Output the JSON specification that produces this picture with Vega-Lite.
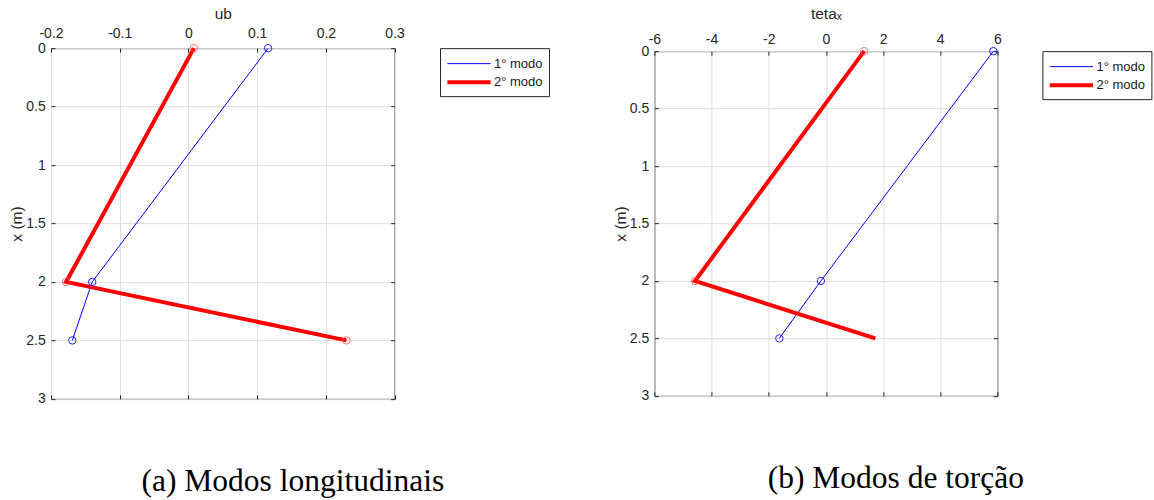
{
  "$schema": "https://vega.github.io/schema/vega-lite/v6.json",
  "padding": {"left": 9, "top": 5, "right": 0, "bottom": 0},
  "background": "white",
  "datasets": {
    "long": [
      {"modo": "1° modo", "val": 0.116, "pos": 0, "m": true},
      {"modo": "1° modo", "val": -0.14, "pos": 2, "m": true},
      {"modo": "1° modo", "val": -0.169, "pos": 2.5, "m": true},
      {"modo": "2° modo", "val": 0.008, "pos": 0, "m": true},
      {"modo": "2° modo", "val": -0.178, "pos": 2, "m": true},
      {"modo": "2° modo", "val": 0.23, "pos": 2.5, "m": true}
    ],
    "tors": [
      {"modo": "1° modo", "val": 5.86, "pos": 0, "m": true},
      {"modo": "1° modo", "val": -0.175, "pos": 2, "m": true},
      {"modo": "1° modo", "val": -1.63, "pos": 2.5, "m": true},
      {"modo": "2° modo", "val": 1.34, "pos": 0, "m": true},
      {"modo": "2° modo", "val": -4.58, "pos": 2, "m": true},
      {"modo": "2° modo", "val": 1.73, "pos": 2.5, "m": false}
    ]
  },
  "config": {
    "font": "Liberation Sans",
    "view": {"stroke": "#262626", "strokeWidth": 1},
    "axis": {
      "labelFont": "Liberation Sans",
      "labelFontSize": 14,
      "labelColor": "#262626",
      "labelFlush": false,
      "labelExpr": "datum.value + ''",
      "titleFont": "Liberation Sans",
      "titleFontSize": 15.5,
      "titleFontWeight": "normal",
      "titleColor": "#262626",
      "domain": false,
      "tickColor": "#262626",
      "tickSize": -4,
      "gridColor": "#dedede",
      "gridWidth": 1
    },
    "legend": {
      "labelFont": "Liberation Sans",
      "labelFontSize": 13,
      "labelColor": "#1a1a1a",
      "strokeColor": "#262626",
      "fillColor": "white",
      "padding": 6,
      "symbolType": "M-2.4,0H2.4",
      "symbolSize": 324,
      "symbolOffset": 12,
      "labelOffset": 14,
      "rowPadding": 0,
      "orient": "right",
      "offset": 44
    },
    "title": {
      "font": "Liberation Serif",
      "fontSize": 31.5,
      "fontWeight": "normal",
      "color": "#000000",
      "orient": "bottom",
      "frame": "group",
      "anchor": "middle",
      "offset": 60,
      "dx": 70
    }
  },
  "hconcat": [
    {
      "width": 343.6,
      "height": 350.7,
      "data": {"name": "long"},
      "title": {"text": "(a) Modos longitudinais"},
      "layer": [
        {
          "mark": {"type": "line"},
          "encoding": {
            "x": {"field": "val", "type": "quantitative", "scale": {"domain": [-0.2, 0.3], "nice": false, "zero": false},
                  "axis": {"orient": "top", "title": "ub", "values": [-0.2, -0.1, 0, 0.1, 0.2, 0.3], "labelPadding": 11.5, "titlePadding": 5.5}},
            "y": {"field": "pos", "type": "quantitative", "scale": {"domain": [0, 3], "reverse": true, "nice": false},
                  "axis": {"orient": "left", "title": "x (m)", "values": [0, 0.5, 1, 1.5, 2, 2.5, 3], "labelPadding": 9.7, "titlePadding": 1}},
            "order": {"field": "pos", "type": "quantitative"},
            "color": {"field": "modo", "type": "nominal", "scale": {"domain": ["1° modo", "2° modo"], "range": ["#0000ff", "#ff0000"]}, "legend": {"title": null}},
            "strokeWidth": {"field": "modo", "type": "nominal", "scale": {"domain": ["1° modo", "2° modo"], "range": [1, 4]}, "legend": {"title": null}}
          }
        },
        {
          "transform": [{"filter": "datum.m"}],
          "mark": {"type": "point", "filled": false, "size": 55, "strokeWidth": 1, "opacity": 0.85},
          "encoding": {
            "x": {"field": "val", "type": "quantitative", "scale": {"domain": [-0.2, 0.3], "nice": false, "zero": false},
                  "axis": {"orient": "bottom", "title": null, "labels": false, "grid": false, "values": [-0.2, -0.1, 0, 0.1, 0.2, 0.3]}},
            "y": {"field": "pos", "type": "quantitative", "scale": {"domain": [0, 3], "reverse": true, "nice": false},
                  "axis": {"orient": "right", "title": null, "labels": false, "grid": false, "values": [0, 0.5, 1, 1.5, 2, 2.5, 3]}},
            "stroke": {"field": "modo", "type": "nominal", "scale": {"domain": ["1° modo", "2° modo"], "range": ["#0000ff", "#ff5a5a"]}, "legend": null}
          }
        }
      ],
      "resolve": {"axis": {"x": "independent", "y": "independent"}}
    },
    {
      "width": 343,
      "height": 344.7,
      "data": {"name": "tors"},
      "title": {"text": "(b) Modos de torção"},
      "layer": [
        {
          "mark": {"type": "line"},
          "encoding": {
            "x": {"field": "val", "type": "quantitative", "scale": {"domain": [-6, 6], "nice": false, "zero": false},
                  "axis": {"orient": "top", "title": "tetaₓ", "values": [-6, -4, -2, 0, 2, 4, 6], "labelPadding": 9, "titlePadding": 11}},
            "y": {"field": "pos", "type": "quantitative", "scale": {"domain": [0, 3], "reverse": true, "nice": false},
                  "axis": {"orient": "left", "title": "x (m)", "values": [0, 0.5, 1, 1.5, 2, 2.5, 3], "labelPadding": 9.7, "titlePadding": 1}},
            "order": {"field": "pos", "type": "quantitative"},
            "color": {"field": "modo", "type": "nominal", "scale": {"domain": ["1° modo", "2° modo"], "range": ["#0000ff", "#ff0000"]}, "legend": {"title": null}},
            "strokeWidth": {"field": "modo", "type": "nominal", "scale": {"domain": ["1° modo", "2° modo"], "range": [1, 4]}, "legend": {"title": null}}
          }
        },
        {
          "transform": [{"filter": "datum.m"}],
          "mark": {"type": "point", "filled": false, "size": 55, "strokeWidth": 1, "opacity": 0.85},
          "encoding": {
            "x": {"field": "val", "type": "quantitative", "scale": {"domain": [-6, 6], "nice": false, "zero": false},
                  "axis": {"orient": "bottom", "title": null, "labels": false, "grid": false, "values": [-6, -4, -2, 0, 2, 4, 6]}},
            "y": {"field": "pos", "type": "quantitative", "scale": {"domain": [0, 3], "reverse": true, "nice": false},
                  "axis": {"orient": "right", "title": null, "labels": false, "grid": false, "values": [0, 0.5, 1, 1.5, 2, 2.5, 3]}},
            "stroke": {"field": "modo", "type": "nominal", "scale": {"domain": ["1° modo", "2° modo"], "range": ["#0000ff", "#ff5a5a"]}, "legend": null}
          }
        }
      ],
      "resolve": {"axis": {"x": "independent", "y": "independent"}}
    }
  ],
  "bounds": "flush",
  "center": true,
  "spacing": 259.4,
  "resolve": {
    "scale": {"color": "independent", "strokeWidth": "independent", "stroke": "independent"},
    "legend": {"color": "independent", "strokeWidth": "independent"}
  }
}
